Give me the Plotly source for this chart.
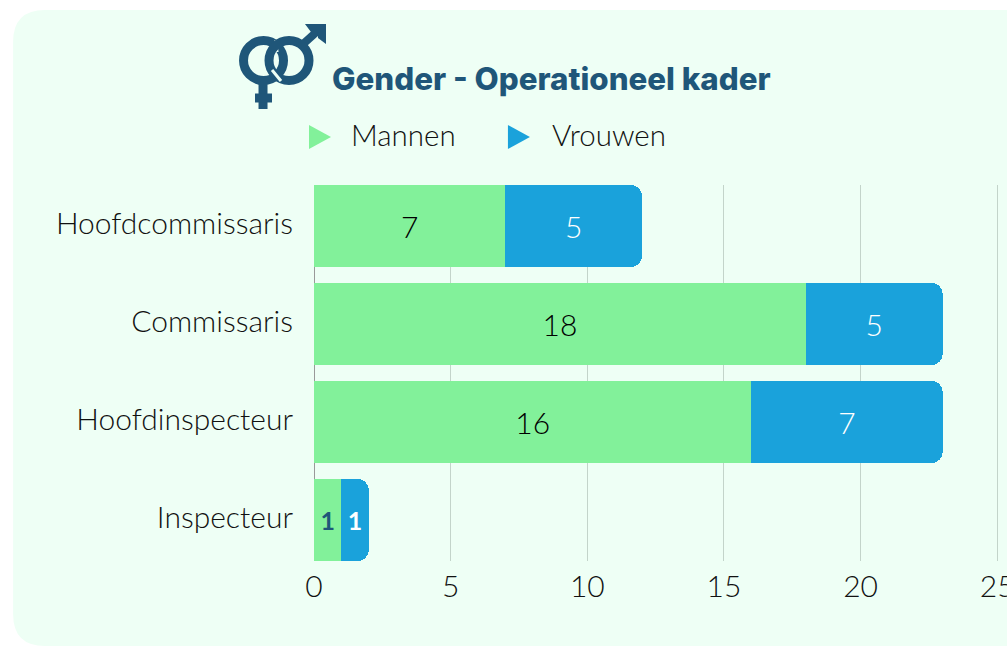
import plotly.graph_objects as go

categories = ["Hoofdcommissaris", "Commissaris", "Hoofdinspecteur", "Inspecteur"]
mannen = [7, 18, 16, 1]
vrouwen = [5, 5, 7, 1]
mannen_labels = ["7", "18", "16", "<b>1</b>"]
vrouwen_labels = ["5", "5", "7", "<b>1</b>"]
x_ticks = [0, 5, 10, 15, 20, 25]
title_text = "Gender - Operationeel kader"

W, H = 1040, 646
X_MAX = 25.1
L, R, T, B = 314, 314 + 27.34 * X_MAX, 185, 561
GREEN, BLUE, NAVY, BG, INK = "#82F19A", "#1AA2DB", "#1F5679", "#EEFFF5", "#111111"
FONT = "Lato"


def px(x):
    return (x - L) / (R - L)


def py(y):
    return (B - y) / (B - T)


def poly(points, fill):
    d = "M" + " L".join(f"{px(x):.5f},{py(y):.5f}" for x, y in points) + " Z"
    return dict(type="path", xref="paper", yref="paper", path=d, fillcolor=fill, line_width=0, layer="below")


def ring(cx, cy, r, width, color):
    return dict(type="circle", xref="paper", yref="paper", x0=px(cx - r), x1=px(cx + r), y0=py(cy + r), y1=py(cy - r),
                line=dict(color=color, width=width), fillcolor="rgba(0,0,0,0)", layer="below")


def segment(x0, y0, x1, y1, width, color):
    return dict(type="line", xref="paper", yref="paper", x0=px(x0), x1=px(x1), y0=py(y0), y1=py(y1),
                line=dict(color=color, width=width), layer="below")


# rounded panel
x0p, x1p, y0p, y1p, rad = 13, 1040, 10, 646, 32
panel_path = (
    f"M{px(x0p)},{py(y0p + rad)} Q{px(x0p)},{py(y0p)} {px(x0p + rad)},{py(y0p)} "
    f"L{px(x1p)},{py(y0p)} L{px(x1p)},{py(y1p)} L{px(x0p + rad)},{py(y1p)} "
    f"Q{px(x0p)},{py(y1p)} {px(x0p)},{py(y1p - rad)} Z"
)
shapes = [dict(type="path", xref="paper", yref="paper", path=panel_path, fillcolor=BG, line_width=0, layer="below")]

# icon
shapes += [
    ring(263.5, 60.5, 20, 9, NAVY),
    segment(263, 84, 263, 109, 9, NAVY),
    segment(255, 98, 272, 98, 9, NAVY),
    segment(302, 45, 322, 27, 8, NAVY),
    poly([(305, 24), (326, 24), (326, 44), (318, 38), (318, 32), (311, 32)], NAVY),
    segment(276, 40, 277, 52, 3, BG),
    ring(289, 60.5, 20, 9, NAVY),
    segment(272, 70, 281, 81, 3, BG),
]
# legend triangles
shapes += [
    poly([(309, 125), (331, 137), (309, 149)], GREEN),
    poly([(508, 125), (530, 137), (508, 149)], BLUE),
]

fig = go.Figure()
fig.add_trace(go.Bar(name="Mannen", y=categories, x=mannen, orientation="h", marker=dict(color=GREEN, line_width=0),
                     text=mannen_labels, textposition="inside", insidetextanchor="middle", textangle=0,
                     constraintext="none",
                     textfont=dict(family=FONT, size=[30, 30, 30, 25], weight=300, color=["#000000", "#000000", "#000000", NAVY]),
                     cliponaxis=False))
fig.add_trace(go.Bar(name="Vrouwen", y=categories, x=vrouwen, orientation="h", marker=dict(color=BLUE, line_width=0),
                     text=vrouwen_labels, textposition="inside", insidetextanchor="middle", textangle=0,
                     constraintext="none",
                     textfont=dict(family=FONT, size=[30, 30, 30, 25], weight=300, color="#ffffff"), cliponaxis=False))

annotations = [
    dict(text="Mannen", xref="paper", yref="paper", x=px(351), y=py(135), xanchor="left", yanchor="middle",
         showarrow=False, xshift=-2, font=dict(family=FONT, size=29.5, weight=300, color=INK)),
    dict(text="Vrouwen", xref="paper", yref="paper", x=px(552), y=py(135), xanchor="left", yanchor="middle",
         showarrow=False, xshift=-2, font=dict(family=FONT, size=29.5, weight=300, color=INK)),
]

half = 41 / 98
fig.update_layout(
    width=W, height=H, barmode="stack", bargap=16 / 98, barcornerradius=11, showlegend=False,
    margin=dict(l=L, r=W - R, t=T, b=H - B, pad=0),
    paper_bgcolor="#ffffff", plot_bgcolor="rgba(0,0,0,0)",
    title=dict(text=title_text, x=px(332), xref="paper", xanchor="left", y=1 - 79 / H, yref="container", yanchor="middle",
               font=dict(family="Inter", size=31.3, weight=800, color=NAVY)),
    xaxis=dict(range=[0, X_MAX], tickvals=x_ticks, showgrid=True, gridcolor="#C3D4CA", gridwidth=1, zeroline=True,
               zerolinecolor="#999999", zerolinewidth=1, showline=False, ticks="", ticklabelstandoff=5,
               tickfont=dict(family=FONT, size=30, weight=300, color=INK)),
    yaxis=dict(categoryorder="array", categoryarray=categories, range=[3 + half, -half], showgrid=False, zeroline=False,
               showline=False, ticks="outside", ticklen=14, tickcolor="rgba(0,0,0,0)", ticklabelshift=3,
               tickfont=dict(family=FONT, size=30, weight=300, color=INK)),
    shapes=shapes, annotations=annotations,
)
fig.write_html("out.html", config={"displayModeBar": False},
               post_script="document.body.style.margin='0';document.body.style.overflow='hidden';")
